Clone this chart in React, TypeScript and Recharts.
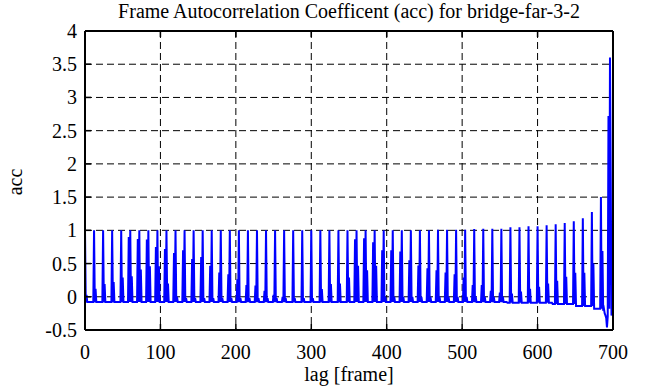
import { LineChart, Line, XAxis, YAxis, CartesianGrid } from 'recharts'

// lag axis and acc axis ticks
const xTicks = [0, 100, 200, 300, 400, 500, 600, 700]
const yTicks = [-0.5, 0, 0.5, 1, 1.5, 2, 2.5, 3, 3.5, 4]

const gopLength = 12

// peak at every multiple of the GOP length (lag = 12k)
const mainPeaks = [
  1, 1, 1, 1, 1, 1, 1, 1, 1, 1,
  1, 1, 1, 1, 1, 1, 1, 1, 1, 1,
  1, 1, 1, 1, 1, 1, 1, 1, 1, 1,
  1, 1, 1, 1, 1, 1, 1, 1, 1, 1.01,
  1.01, 1.01, 1.01, 1.02, 1.025, 1.025, 1.025, 1.045, 1.045, 1.06,
  1.06, 1.075, 1.09, 1.11, 1.135, 1.18, 1.275, 1.5, 3.6,
]

// shoulder just before each peak (lag = 12k - 2)
const preShoulders = [
  null, null, null, null, null, 0.9, 0.87, 0.86, 0.75, 0.72,
  0.66, 0.7, 0.57, 0.6, 0.465, 0.365, 0.34, 0.265, 0.175, 0.17,
  0.09, 0.03, 0.0, null, null, null, null, null, null, null,
  0.865, 0.88, 0.82, 0.7, 0.7, 0.68, 0.55, 0.47, 0.43, 0.4,
  0.365, 0.34, 0.29, 0.175, 0.175, 0.09, 0.065, null, null, null,
  null, null, null, null, null, null, null, null, 2.72,
]

// shoulder just after each peak (lag = 12k + 2)
const postShoulders = [
  0.03, 0.12, 0.19, 0.22, 0.29, 0.31, 0.41, 0.46, 0.46, 0.2,
  0.0, -0.02, -0.02, -0.02, -0.02, -0.02, -0.02, -0.02, -0.02, -0.02,
  -0.02, -0.02, -0.02, -0.02, -0.02, -0.02, 0.115, 0.19, 0.2, 0.29,
  0.465, 0.4, 0.465, 0.0, 0.0, 0.0, 0.0, 0.0, 0.0, 0.0,
  0.0, 0.0, 0.0, 0.0, 0.0, 0.0, 0.0, 0.05, 0.08, 0.12,
  0.15, 0.2, 0.24, 0.3, 0.36, 0.36, 0.5, 0.69, null,
]

// floor level between peaks, by lag range
const baselineSteps = [
  { from: 0, acc: -0.08 },
  { from: 560, acc: -0.09 },
  { from: 620, acc: -0.11 },
  { from: 650, acc: -0.14 },
  { from: 675, acc: -0.18 },
]

// last few lags where the curve breaks down
const tailValues: [number, number][] = [
  [687, -0.21],
  [689, -0.25],
  [690, -0.28],
  [691, -0.32],
  [692, -0.46],
  [693, -0.3],
  [697, 1.8],
  [698, -0.28],
  [699, -0.25],
  [700, -0.26],
]

const maxLag = 700

const floorAt = (lag: number) => {
  let v = baselineSteps[0].acc
  for (const s of baselineSteps) if (lag >= s.from) v = s.acc
  return v
}

const tailMap = new Map(tailValues)

const data = Array.from({ length: maxLag + 1 }, (_, lag) => {
  let acc: number = floorAt(lag)
  if (lag % gopLength === 0) acc = mainPeaks[lag / gopLength]
  else if ((lag + 2) % gopLength === 0) {
    const v = preShoulders[(lag + 2) / gopLength]
    if (v != null) acc = v
  } else if ((lag - 2) % gopLength === 0) {
    const v = postShoulders[(lag - 2) / gopLength]
    if (v != null) acc = v
  }
  if (tailMap.has(lag)) acc = tailMap.get(lag) as number
  return { lag, acc }
})

const font = 'Liberation Serif'
const fontSize = 20
const axisLine = { stroke: '#000', strokeWidth: 2 }
const tickLine = { stroke: '#000', strokeWidth: 1.5 }

// serif tick labels drawn by hand so the font sticks
const XTick = (props: any) => (
  <text x={props.x} y={props.y} dy={18} textAnchor="middle" fontFamily={font} fontSize={fontSize} fill="#000" style={{ fontFamily: font }}>
    {props.payload.value}
  </text>
)

const YTick = (props: any) => (
  <text x={props.x} y={props.y} dy={7} textAnchor="end" fontFamily={font} fontSize={fontSize} fill="#000" style={{ fontFamily: font }}>
    {props.payload.value}
  </text>
)

export default function App() {
  return (
    <div
      style={{
        position: 'absolute',
        left: 0,
        top: 0,
        width: 646,
        height: 387,
        background: '#fff',
        fontFamily: font,
        color: '#000',
      }}
    >
      <div style={{ position: 'absolute', left: 85, width: 528, top: 0, textAlign: 'center', fontSize, lineHeight: '22px' }}>
        Frame Autocorrelation Coefficent (acc) for bridge-far-3-2
      </div>
      <div style={{ position: 'absolute', left: 85, width: 528, top: 363, textAlign: 'center', fontSize, lineHeight: '22px' }}>
        lag [frame]
      </div>
      <div
        style={{
          position: 'absolute',
          left: 15,
          top: 182,
          fontSize,
          lineHeight: '22px',
          transform: 'translate(-50%, -50%) rotate(-90deg)',
        }}
      >
        acc
      </div>
      <LineChart width={646} height={387} data={data} margin={{ top: 30, right: 32, left: 25, bottom: 27 }}>
        <CartesianGrid stroke="#000" strokeDasharray="7 4" strokeWidth={1} />
        <XAxis
          dataKey="lag"
          type="number"
          domain={[0, 700]}
          ticks={xTicks}
          height={30}
          tickSize={-6}
          tickMargin={17}
          tick={<XTick />}
          axisLine={axisLine}
          tickLine={tickLine}
          interval={0}
        />
        <XAxis
          xAxisId="top"
          orientation="top"
          dataKey="lag"
          type="number"
          domain={[0, 700]}
          ticks={xTicks}
          height={1}
          tickSize={-6}
          tickFormatter={() => ''}
          axisLine={axisLine}
          tickLine={tickLine}
          interval={0}
        />
        <YAxis
          type="number"
          domain={[-0.5, 4]}
          ticks={yTicks}
          width={60}
          tickSize={-6}
          tickMargin={14}
          tick={<YTick />}
          axisLine={axisLine}
          tickLine={tickLine}
          interval={0}
        />
        <YAxis
          yAxisId="right"
          orientation="right"
          type="number"
          domain={[-0.5, 4]}
          ticks={yTicks}
          width={1}
          tickSize={-6}
          tickFormatter={() => ''}
          axisLine={axisLine}
          tickLine={tickLine}
          interval={0}
        />
        <Line
          type="linear"
          dataKey="acc"
          stroke="#0000ff"
          strokeWidth={2}
          dot={false}
          isAnimationActive={false}
        />
      </LineChart>
    </div>
  )
}
